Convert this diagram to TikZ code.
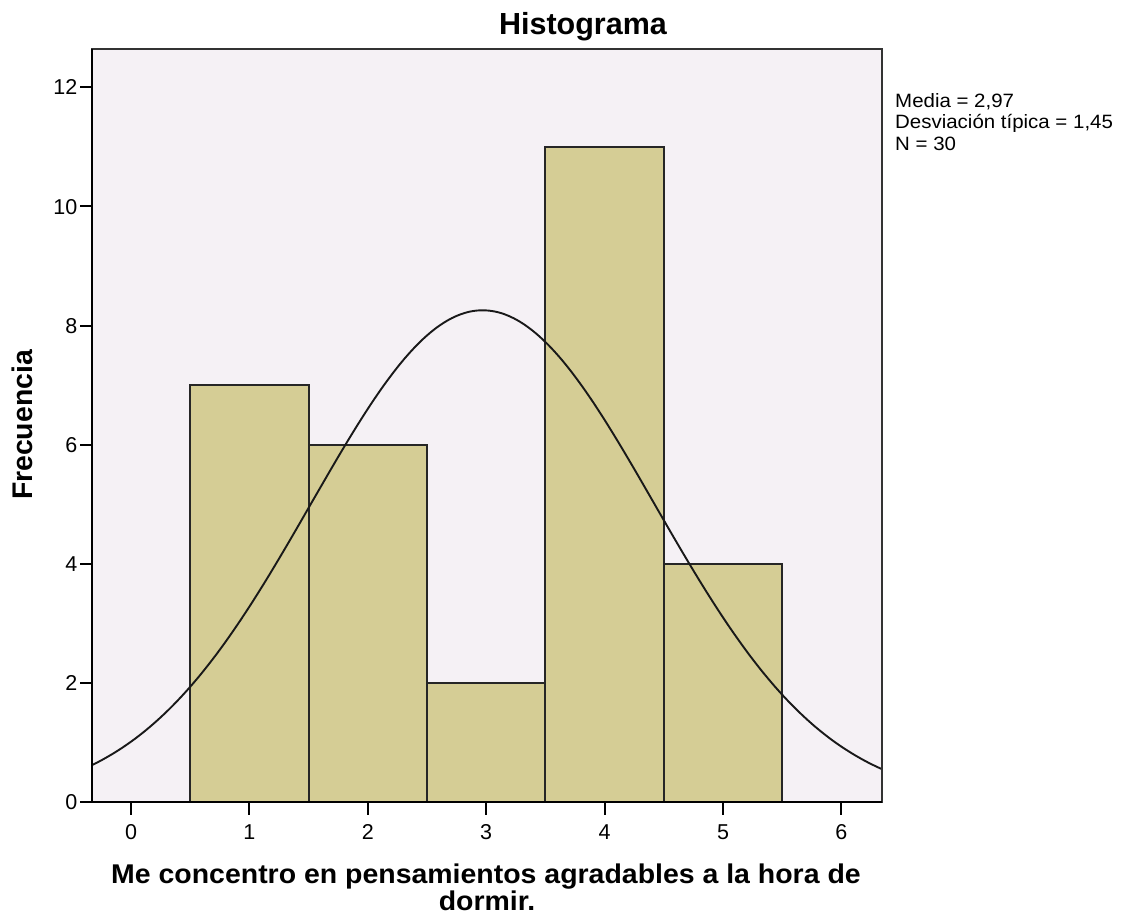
\documentclass[tikz,border=0pt]{standalone}
\usepackage{fontspec}
\setmainfont{Liberation Sans}
\newfontfamily\legfont[FakeStretch=1.06]{Liberation Sans}
\newfontfamily\xlabfont[FakeStretch=1.05]{Liberation Sans}
\begin{document}
\begin{tikzpicture}[x=1pt,y=-1pt,
  framebox/.style={draw=black!80,line width=2pt},
  barbox/.style={fill=barcol,draw=black!85,line width=2pt},
  tickline/.style={draw=black,line width=2pt},
  ticklabel/.style={inner sep=0pt,font=\fontsize{21.5}{23}\selectfont},
  boldlabel/.style={inner sep=0pt,font=\fontsize{28.4}{30}\selectfont\bfseries},
  xlabstyle/.style={inner sep=0pt,font=\xlabfont\fontsize{27.1}{30}\selectfont\bfseries},
  curve/.style={draw=black!90,line width=1.9pt}]
\definecolor{barcol}{HTML}{D5CD95}
\definecolor{bgcol}{HTML}{F5F1F5}
\useasboundingbox (0pt,0pt) rectangle (1122pt,-915pt);
% plot area
\fill[bgcol] (92pt,-49pt) rectangle (882pt,-802pt);
\begin{scope}[shift={(131pt,-802pt)},x=118.4pt,y=59.56pt]
  % bars
  \draw[barbox] (0.5,0) rectangle (1.5,7);
  \draw[barbox] (1.5,0) rectangle (2.5,6);
  \draw[barbox] (2.5,0) rectangle (3.5,2);
  \draw[barbox] (3.5,0) rectangle (4.5,11);
  \draw[barbox] (4.5,0) rectangle (5.5,4);
  % normal curve
  \begin{scope}
    \clip (-0.33,0) rectangle (6.34,12.64);
    \draw[curve,smooth] plot[domain=-0.34:6.35,samples=160]
      (\x,{30/(1.45*sqrt(2*pi))*exp(-((\x-2.97)^2)/(2*1.45*1.45))});
  \end{scope}
  % x ticks
  \foreach \i in {0,...,6}{
    \draw[tickline] (\i,0) -- ++(0pt,-13pt);
    \node[ticklabel,anchor=base] (xt\i) at ([yshift=-37pt]\i,0) {\i};
  }
  % y ticks
  \foreach \j in {0,2,...,12}{
    \draw[tickline] (-0.33,\j) -- ++(-12pt,0pt);
    \node[ticklabel,anchor=base east] (yt\j) at ([xshift=-14.5pt,yshift=-7.6pt]-0.33,\j) {\j};
  }
\end{scope}
% frame
\draw[framebox] (92pt,-49pt) rectangle (882pt,-802pt);
\draw[draw=black,line width=2pt] (92pt,-49pt) -- (92pt,-802pt) -- (882pt,-802pt);
% title
\node[boldlabel,anchor=base,font=\fontsize{30.5}{32}\selectfont\bfseries] (title) at (583pt,-35pt) {Histograma};
% axis labels
\node[boldlabel,anchor=base,rotate=90] (ylab) at (32pt,-425pt) {Frecuencia};
\node[xlabstyle,anchor=base] (xlab1) at (486pt,-883.5pt) {Me concentro en pensamientos agradables a la hora de};
\node[xlabstyle,anchor=base] (xlab2) at (487pt,-910.5pt) {dormir.};
% legend
\node[inner sep=0pt,anchor=base west,align=left,
  font=\legfont\fontsize{19.3}{21.3}\selectfont] (legend) at (895pt,-150pt)
  {Media = 2,97\\Desviación típica = 1,45\\N = 30};
\end{tikzpicture}
\end{document}
